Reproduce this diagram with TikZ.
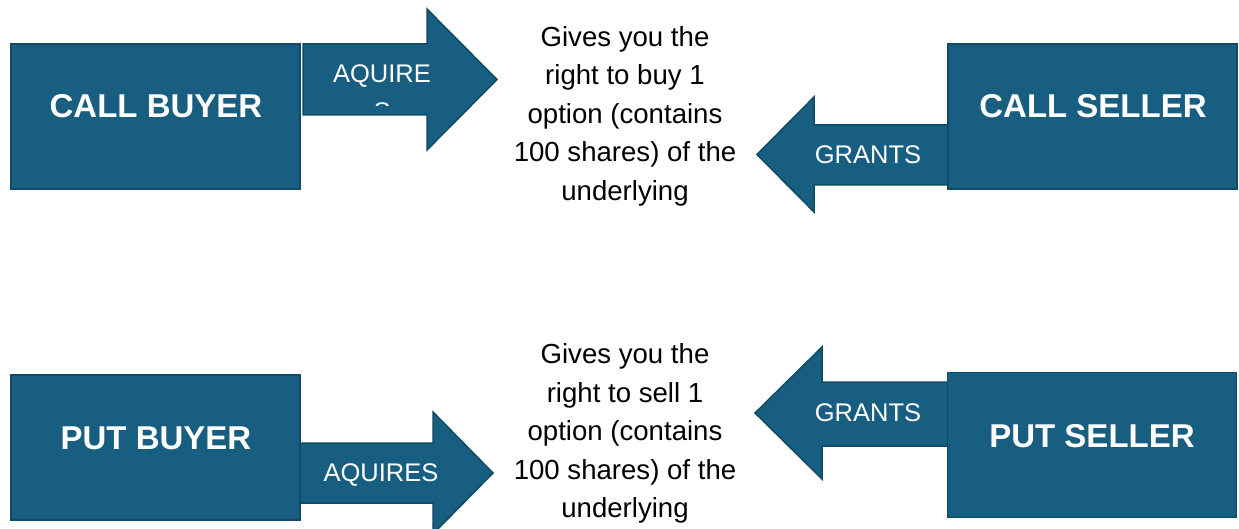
\documentclass[tikz,border=0pt]{standalone}
\usepackage{fontspec}
\setmainfont{Liberation Sans}
\definecolor{boxfill}{RGB}{23,94,128}
\definecolor{boxline}{RGB}{16,74,102}
\begin{document}
\begin{tikzpicture}[x=1pt,y=-1pt,
  partybox/.style={draw=boxline,fill=boxfill,line width=1.5pt,minimum width=289pt,minimum height=145pt,inner sep=0pt},
  arrowshape/.style={draw=boxline,fill=boxfill,line width=1.5pt,line join=miter},
  partytext/.style={text=white,font=\fontsize{33}{40}\selectfont\bfseries,anchor=base,inner sep=0pt},
  arrowtext/.style={text=white,font=\fontsize{25.5}{30}\selectfont,anchor=base,inner sep=0pt},
  desctext/.style={font=\fontsize{27.6}{38.5}\selectfont,align=center,inner sep=0pt}]
\useasboundingbox (0,0) rectangle (1239,529);
\clip (0,0) rectangle (1239,529);
% arrows
\draw[arrowshape] (303,44) -- (427,44) -- (427,9) -- (497,79.5) -- (427,150) -- (427,115) -- (303,115) -- cycle;
\draw[arrowshape] (300,443) -- (433,443) -- (433,412) -- (493,473) -- (433,534) -- (433,503) -- (300,503) -- cycle;
\draw[arrowshape] (955,125) -- (814,125) -- (814,97) -- (757,154.5) -- (814,212) -- (814,185) -- (955,185) -- cycle;
\draw[arrowshape] (955,382) -- (822,382) -- (822,347) -- (755,413) -- (822,479) -- (822,446) -- (955,446) -- cycle;
% arrow labels
\node[arrowtext] (aq1) at (382,83) {AQUIRE};
\begin{scope}
\clip (360,100) rectangle (405,105.5);
\node[arrowtext] (aq1s) at (382,120.5) {S};
\end{scope}
\node[arrowtext] (aq2) at (381,481) {AQUIRES};
\node[arrowtext] (gr1) at (868,164) {GRANTS};
\node[arrowtext] (gr2) at (868,421) {GRANTS};
% boxes
\node[partybox] (cb) at (155.5,116.5) {};
\node[partybox] (cs) at (1092.5,116.5) {};
\node[partybox] (pb) at (155.5,447.5) {};
\node[partybox] (ps) at (1092,445) {};
\node[partytext] (cbt) at (156,118) {CALL BUYER};
\node[partytext] (cst) at (1093,118) {CALL SELLER};
\node[partytext] (pbt) at (156,449) {PUT BUYER};
\node[partytext] (pst) at (1092,447) {PUT SELLER};
% descriptions
\node[desctext] (d1) at (625,116) {Gives you the\\right to buy 1\\option (contains\\100 shares) of the\\underlying};
\node[desctext] (d2) at (625,433.5) {Gives you the\\right to sell 1\\option (contains\\100 shares) of the\\underlying};
\end{tikzpicture}
\end{document}
